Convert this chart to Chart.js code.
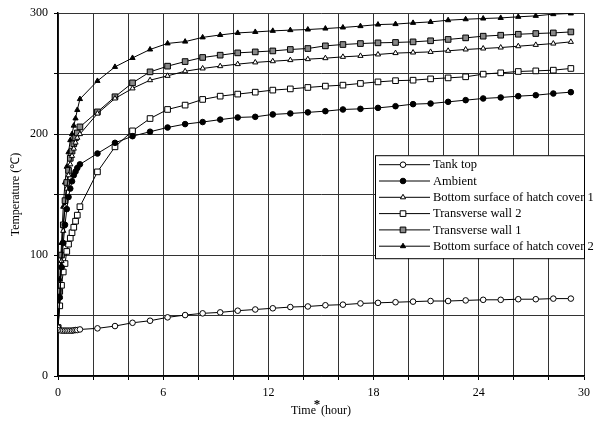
<!DOCTYPE html>
<html>
<head>
<meta charset="utf-8">
<script src="https://cdn.jsdelivr.net/npm/chart.js@4/dist/chart.umd.min.js"></script>
<style>
  html, body { margin: 0; padding: 0; background: #fff; }
</style>
</head>
<body>
<canvas id="chart" width="600" height="425"></canvas>
<script>
// time axis (hour) shared by every series
const hours = [0, 0.1, 0.2, 0.3, 0.4, 0.5, 0.6, 0.7, 0.8, 0.9, 1.0, 1.1, 1.25,
  2.25, 3.25, 4.25, 5.25, 6.25, 7.25, 8.25, 9.25, 10.25, 11.25, 12.25, 13.25, 14.25, 15.25,
  16.25, 17.25, 18.25, 19.25, 20.25, 21.25, 22.25, 23.25, 24.25, 25.25, 26.25, 27.25, 28.25, 29.25];

const tankTop = [40, 38, 37.5, 37.5, 37.5, 37.5, 37.5, 37.5, 37.5, 37.8, 38, 38, 38.5,
  39.4, 41.3, 44, 45.7, 48.5, 50.4, 51.8, 52.6, 54, 55, 56, 57, 57.5, 58.5,
  59, 60, 60.5, 61, 61.5, 62, 62, 62.5, 63, 63, 63.5, 63.5, 64, 64];
const ambient = [40, 65, 90, 110, 125, 138, 148, 155, 161, 166, 169, 172, 175,
  184, 192.8, 198.3, 202, 205.5, 208.3, 210, 212, 213.8, 214.3, 216.3, 217.1, 218, 219,
  220.4, 220.9, 221.7, 223.1, 224.8, 225.3, 226.7, 228.1, 229.5, 230.3, 231.4, 232.2, 233.6, 234.7];
const hatchCover1 = [40, 65, 95, 120, 140, 155, 166, 175, 182, 188, 193, 197, 200,
  217, 229.5, 237.8, 244.6, 248.2, 252, 254.3, 256.2, 257.9, 259.3, 260.3, 261.2, 262, 262.8,
  263.9, 264.7, 265.9, 267, 267.5, 268, 268.9, 270, 270.8, 271.6, 272.7, 273.8, 274.9, 276.3];
const transWall2 = [40, 58, 75, 86, 93, 103, 109, 114, 118.5, 123, 128, 133, 140,
  168.8, 189.5, 202.7, 212.9, 220.4, 224, 228.7, 231.4, 233.1, 234.7, 236.4, 237.4, 238.6, 239.7,
  240.5, 241.9, 243.2, 244.2, 244.6, 245.7, 246.5, 247.4, 249.6, 250.7, 251.8, 252.3, 252.9, 254.3];
const transWall1 = [40, 70, 100, 125, 145, 160, 170, 180, 186, 192, 197, 201, 206,
  218.4, 230.9, 242.4, 251.5, 256.2, 260, 263.4, 265.3, 267.2, 268, 268.8, 270, 270.8, 273,
  274.1, 274.9, 275.5, 275.8, 276.3, 277.2, 278.3, 279.6, 281, 281.8, 282.6, 283.2, 283.7, 284.5];
const hatchCover2 = [40, 80, 110, 140, 160, 173, 185, 195, 200, 207, 213, 220, 229,
  244, 255.6, 263, 270, 275, 276.5, 280, 282, 283.7, 284.5, 285.4, 286, 286.5, 287.3,
  288.2, 289.3, 290.6, 291, 292, 292.8, 294.2, 295, 295.6, 296.1, 297, 297.8, 299.2, 299.8];

const seriesNames = ['Tank top', 'Ambient', 'Bottom surface of hatch cover 1',
  'Transverse wall 2', 'Transverse wall 1', 'Bottom surface of hatch cover 2'];
const seriesValues = [tankTop, ambient, hatchCover1, transWall2, transWall1, hatchCover2];

const markers = [
  { pointStyle: 'circle', radius: 2.8, fill: '#fff' },
  { pointStyle: 'circle', radius: 2.8, fill: '#000' },
  { pointStyle: 'triangle', radius: 3, fill: '#fff' },
  { pointStyle: 'rect', radius: 4, fill: '#fff' },
  { pointStyle: 'rect', radius: 4, fill: '#888' },
  { pointStyle: 'triangle', radius: 3, fill: '#000' },
];

const serif = 'Liberation Serif, Times New Roman, serif';

// boxed legend inside the plot + x title with the raised asterisk
const extras = {
  id: 'extras',
  afterDraw(chart) {
    const { ctx, chartArea } = chart;
    ctx.save();
    const left = chartArea.left + 317;
    const top = chartArea.top + 142;
    const right = chartArea.right;
    const height = 103;
    ctx.fillStyle = '#fff';
    ctx.fillRect(left, top, right - left, height);
    ctx.strokeStyle = '#000';
    ctx.lineWidth = 1;
    ctx.strokeRect(left + 0.5, top + 0.5, right - left, height);

    ctx.font = '12.5px ' + serif;
    ctx.textBaseline = 'middle';
    seriesNames.forEach((name, i) => {
      const y = top + 9.5 + i * 16.3;
      ctx.strokeStyle = '#000';
      ctx.lineWidth = 1;
      ctx.beginPath();
      ctx.moveTo(left + 4, y);
      ctx.lineTo(left + 55, y);
      ctx.stroke();
      const m = markers[i];
      ctx.fillStyle = m.fill;
      Chart.helpers.drawPoint(ctx, { pointStyle: m.pointStyle, radius: m.radius, rotation: 0, borderWidth: 1 }, left + 28, y);
      ctx.fillStyle = '#000';
      ctx.fillText(name, left + 58, y + 0.5);
    });

    // x axis title: Time*(hour)
    ctx.font = '12px ' + serif;
    const cx = (chartArea.left + chartArea.right) / 2;
    const by = 414;
    const w1 = ctx.measureText('Time').width;
    const w2 = ctx.measureText('(hour)').width;
    const gap = 5;
    const x0 = cx - (w1 + gap + w2) / 2;
    ctx.textBaseline = 'alphabetic';
    ctx.textAlign = 'left';
    ctx.fillText('Time', x0, by);
    ctx.fillText('(hour)', x0 + w1 + gap, by);
    ctx.font = 'bold 13px ' + serif;
    ctx.textAlign = 'center';
    ctx.fillText('*', x0 + w1 + 1, by - 6);
    ctx.restore();
  },
};

new Chart(document.getElementById('chart'), {
  type: 'scatter',
  data: {
    datasets: seriesValues.map((vals, i) => ({
      label: seriesNames[i],
      data: hours.map((h, k) => ({ x: h, y: vals[k] })),
      showLine: true,
      borderColor: '#000',
      borderWidth: 1,
      tension: 0,
      pointStyle: markers[i].pointStyle,
      pointRadius: markers[i].radius,
      pointBackgroundColor: markers[i].fill,
      pointBorderColor: '#000',
      pointBorderWidth: 1,
    })),
  },
  options: {
    responsive: false,
    animation: false,
    devicePixelRatio: 1,
    layout: { padding: { left: 0, right: 16, top: 13, bottom: 0 } },
    plugins: {
      legend: { display: false },
      tooltip: { enabled: false },
    },
    scales: {
      x: {
        type: 'linear',
        min: 0,
        max: 30,
        afterFit: (scale) => { scale.height = 49; },
        grid: { color: '#333', lineWidth: 1, tickLength: 4, tickColor: '#000' },
        border: { color: '#000', width: 1.5 },
        ticks: {
          stepSize: 2,
          autoSkip: false,
          maxRotation: 0,
          padding: 6,
          color: '#000',
          font: { family: serif, size: 12 },
          callback: (v) => (v % 6 === 0 ? v : ''),
        },
      },
      y: {
        min: 0,
        max: 300,
        afterFit: (scale) => { scale.width = 58; },
        grid: { color: '#333', lineWidth: 1, tickLength: 4, tickColor: '#000' },
        border: { color: '#000', width: 1.5 },
        title: {
          display: true,
          text: 'Temperature (℃)',
          color: '#000',
          font: { family: serif, size: 12 },
          padding: { top: 9, bottom: 0 },
        },
        ticks: {
          stepSize: 50,
          padding: 6,
          color: '#000',
          font: { family: serif, size: 12 },
          callback: (v) => (v % 100 === 0 ? v : ''),
        },
      },
    },
  },
  plugins: [extras],
});
</script>
</body>
</html>
